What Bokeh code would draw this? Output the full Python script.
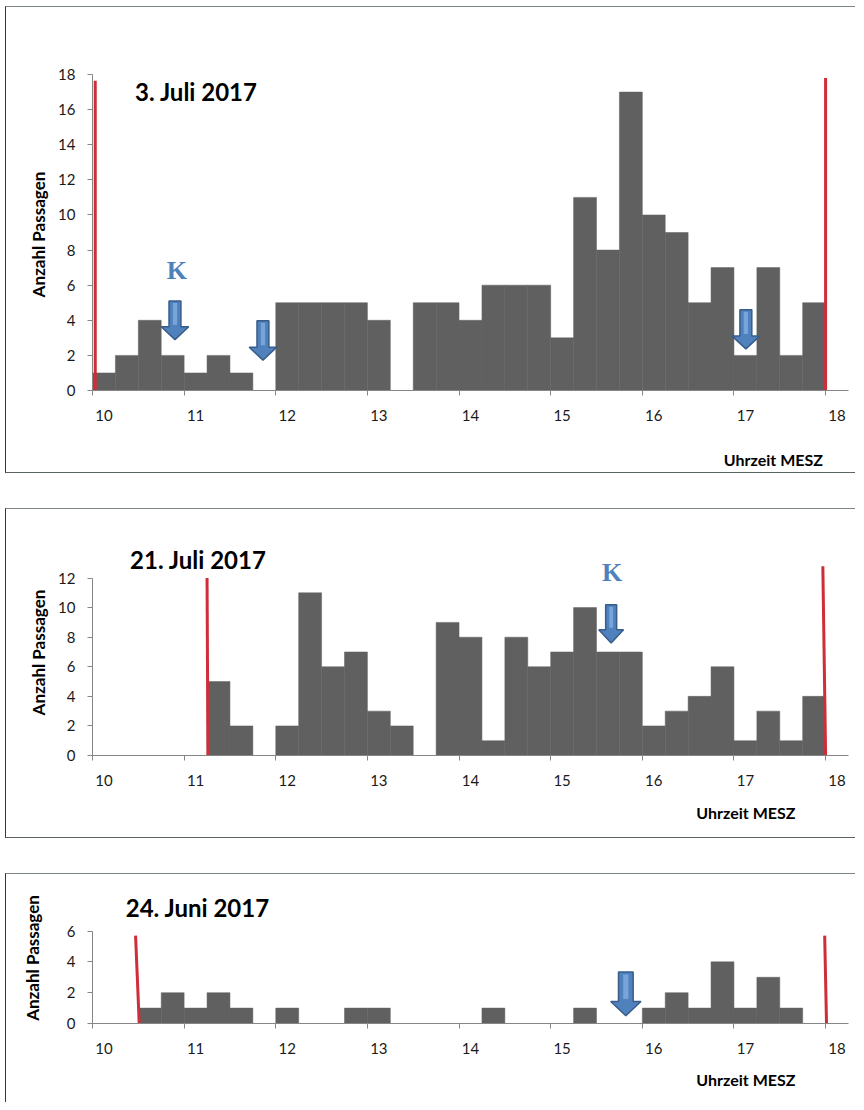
from bokeh.plotting import figure
from bokeh.layouts import column
from bokeh.models import FixedTicker, Label, Range1d, LinearAxis
from bokeh.embed import file_html
from bokeh.resources import INLINE

# ---------------- data ----------------
# 15-minute bins from 10:00 to 17:45 (start time in hours)
bin_start = [10 + 0.25 * i for i in range(32)]
hour_ticks = [10, 11, 12, 13, 14, 15, 16, 17, 18]
hour_labels = ["10", "11", "12", "13", "14", "15", "16", "17", "18"]

juli3_counts = [1, 2, 4, 2, 1, 2, 1, 0, 5, 5, 5, 5, 4, 0, 5, 5,
                4, 6, 6, 6, 3, 11, 8, 17, 10, 9, 5, 7, 2, 7, 2, 5]
juli21_counts = [0, 0, 0, 0, 0, 5, 2, 0, 2, 11, 6, 7, 3, 2, 0, 9,
                 8, 1, 8, 6, 7, 10, 7, 7, 2, 3, 4, 6, 1, 3, 1, 4]
juni24_counts = [0, 0, 1, 2, 1, 2, 1, 0, 1, 0, 0, 1, 1, 0, 0, 0,
                 0, 1, 0, 0, 0, 1, 0, 0, 1, 2, 1, 4, 1, 3, 1, 0]

# observation window limits (red lines): time at top, time at bottom, top value
juli3_window = [(10.03, 10.03, 17.65), (18.0, 18.0, 17.8)]
juli21_window = [(11.25, 11.26, 12.0), (17.97, 18.0, 12.8)]
juni24_window = [(10.47, 10.51, 5.7), (17.99, 18.01, 5.7)]

# arrows: time, top, neck, tip
juli3_arrows = [(10.90, 5.1, 3.63, 2.9), (11.86, 3.98, 2.46, 1.73), (17.13, 4.6, 3.1, 2.37)]
juli21_arrows = [(15.66, 10.2, 8.5, 7.6)]
juni24_arrows = [(15.82, 3.34, 1.43, 0.5)]

# K markers: time, value
juli3_k = [(10.92, 6.84)]
juli21_k = [(15.67, 12.38)]

X_CAPTION = "Uhrzeit MESZ"

BAR = "#606060"
AXIS = "#868686"
RED = "#cf2e38"
BLUE = "#4f81bd"
BLUE_LIGHT = "#78a4da"
BLUE_EDGE = "#385d8a"
FONT = "Lato"


def arrow_shape(x, top, neck, tip, shaft, head):
    s, h = shaft / 2, head / 2
    xs = [x - s, x + s, x + s, x + h, x, x - h, x - s]
    ys = [top, top, neck, neck, tip, neck, neck]
    return xs, ys


def make_panel(counts, title, title_pos, ymax, yend, window, arrows, ks,
               ylabel, height, mb_top, mb_bottom, mb_right, ylabel_standoff,
               caption_x, caption_standoff, shaft, head, margin, bottom_border=True):
    styles = {"border-top": "1.5px solid #7d8585", "border-left": "1.5px solid #303a3a"}
    if bottom_border:
        styles["border-bottom"] = "1.5px solid #5a6464"
    p = figure(width=850, height=height,
               x_range=Range1d(10, 18.25), y_range=Range1d(0, yend),
               output_backend="svg", toolbar_location=None,
               min_border_left=86, min_border_right=mb_right,
               min_border_top=mb_top, min_border_bottom=mb_bottom,
               styles=styles, margin=margin)
    p.xgrid.visible = False
    p.ygrid.visible = False
    p.outline_line_color = None
    p.background_fill_color = "white"

    # bars
    p.quad(left=bin_start, right=[b + 0.25 for b in bin_start],
           bottom=0, top=counts, fill_color=BAR, line_color=BAR, line_width=0.5)

    # red window lines
    p.segment(x0=[w[0] for w in window], y0=[w[2] for w in window],
              x1=[w[1] for w in window], y1=[0 for w in window],
              line_color=RED, line_width=3)

    # arrows (block arrows with a light highlight in the shaft)
    xs, ys, hx, hy = [], [], [], []
    for (ax, top, neck, tip) in arrows:
        a, b = arrow_shape(ax, top, neck, tip, shaft, head)
        xs.append(a)
        ys.append(b)
        hw = shaft * 0.18
        dy = (top - neck) * 0.08
        hx.append([ax - hw, ax + hw, ax + hw, ax - hw])
        hy.append([top - dy, top - dy, neck + dy, neck + dy])
    p.patches(xs, ys, fill_color=BLUE, line_color=BLUE_EDGE, line_width=1.5)
    p.patches(hx, hy, fill_color=BLUE_LIGHT, line_color=None)

    for (kx, ky) in ks:
        p.add_layout(Label(x=kx, y=ky, text="K", text_font="Liberation Serif",
                           text_font_style="bold", text_font_size="26px",
                           text_color=BLUE, text_align="center",
                           text_baseline="middle"))

    # title (inside the frame)
    p.add_layout(Label(x=title_pos[0], y=title_pos[1], text=title,
                       text_font=FONT, text_font_style="bold",
                       text_font_size="24px", text_color="black",
                       text_align="left", text_baseline="middle"))

    # x axis
    xa = p.xaxis[0]
    xa.ticker = FixedTicker(ticks=[h + 0.125 for h in hour_ticks], minor_ticks=hour_ticks)
    xa.major_label_overrides = {h + 0.125: lab for h, lab in zip(hour_ticks, hour_labels)}
    xa.major_tick_in = 0
    xa.major_tick_out = 0
    xa.minor_tick_in = 0
    xa.minor_tick_out = 5
    xa.minor_tick_line_color = AXIS
    xa.axis_line_color = AXIS
    xa.major_label_text_font = FONT
    xa.major_label_text_font_size = "15px"
    xa.major_label_text_color = "#1a1a1a"
    xa.major_label_standoff = 14

    # second (bare) axis below, carrying the axis caption at the right
    cap = LinearAxis(ticker=FixedTicker(ticks=[caption_x]),
                     major_label_overrides={caption_x: X_CAPTION},
                     axis_line_color=None, major_tick_line_color=None,
                     minor_tick_line_color=None,
                     major_tick_in=0, major_tick_out=0,
                     minor_tick_in=0, minor_tick_out=0,
                     major_label_standoff=caption_standoff,
                     major_label_text_font=FONT,
                     major_label_text_font_style="bold",
                     major_label_text_font_size="16px",
                     major_label_text_color="black")
    p.add_layout(cap, "below")

    # y axis
    ya = p.yaxis[0]
    ya.ticker = FixedTicker(ticks=list(range(0, ymax + 1, 2)))
    ya.bounds = (0, ymax)
    ya.major_tick_in = 0
    ya.major_tick_out = 5
    ya.minor_tick_out = 0
    ya.minor_tick_in = 0
    ya.major_tick_line_color = AXIS
    ya.axis_line_color = AXIS
    ya.major_label_text_font = FONT
    ya.major_label_text_font_size = "15px"
    ya.major_label_text_color = "#1a1a1a"
    ya.major_label_standoff = 12
    ya.axis_label = ylabel
    ya.axis_label_text_font = FONT
    ya.axis_label_text_font_style = "bold"
    ya.axis_label_text_font_size = "17px"
    ya.axis_label_text_color = "black"
    ya.axis_label_standoff = ylabel_standoff
    return p


p1 = make_panel(juli3_counts, "3. Juli 2017", (10.465, 17.05), 18, 18.0,
                juli3_window, juli3_arrows, juli3_k, "Anzahl  Passagen",
                height=467, mb_top=67, mb_bottom=84, mb_right=8,
                ylabel_standoff=6, caption_x=17.43, caption_standoff=26,
                shaft=0.13, head=0.30, margin=(6, 0, 0, 5))
p2 = make_panel(juli21_counts, "21. Juli 2017", (10.41, 13.27), 12, 14.2,
                juli21_window, juli21_arrows, juli21_k, "Anzahl  Passagen",
                height=330, mb_top=36, mb_bottom=84, mb_right=8,
                ylabel_standoff=6, caption_x=17.13, caption_standoff=14,
                shaft=0.12, head=0.27, margin=(0, 0, 0, 5))
p3 = make_panel(juni24_counts, "24. Juni 2017", (10.363, 7.51), 6, 8.5,
                juni24_window, juni24_arrows, [], "Anzahl Passagen",
                height=229, mb_top=18, mb_bottom=80, mb_right=1,
                ylabel_standoff=21, caption_x=17.13, caption_standoff=13,
                shaft=0.16, head=0.33, margin=(0, 0, 0, 5), bottom_border=False)

layout = column(p1, p2, p3, spacing=35)
open("out.html", "w").write(file_html(layout, INLINE))
